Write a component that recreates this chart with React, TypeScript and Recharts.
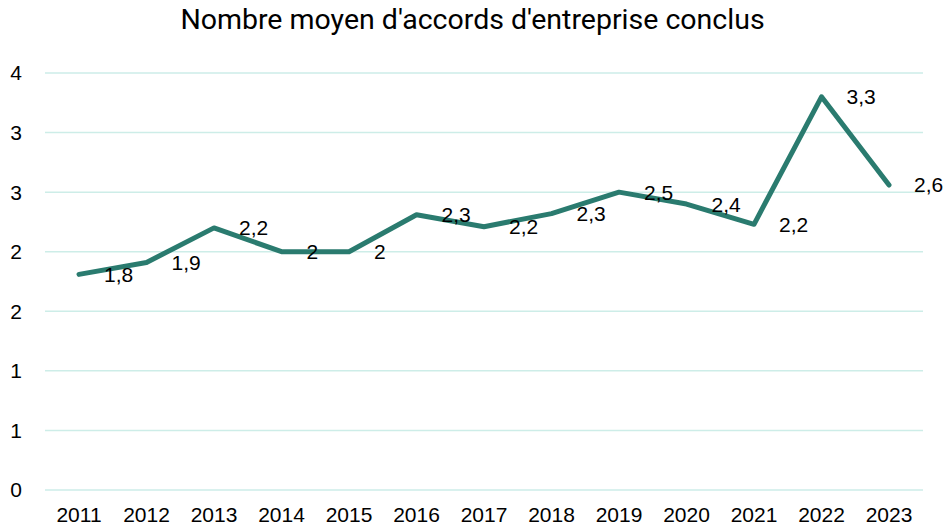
import { CartesianGrid, LabelList, Line, LineChart, XAxis, YAxis } from "recharts"

const years = ["2011", "2012", "2013", "2014", "2015", "2016", "2017", "2018", "2019", "2020", "2021", "2022", "2023"]
const avgAgreements = [1.81, 1.91, 2.2, 2.0, 2.0, 2.31, 2.21, 2.32, 2.5, 2.4, 2.23, 3.3, 2.56]
const yTicks = [0, 0.5, 1, 1.5, 2, 2.5, 3, 3.5]

const data = years.map((year, i) => ({ year, value: avgAgreements[i] }))

const FONT = "'Liberation Sans', Arial, sans-serif"

const formatValue = (v: number) => {
  const r = Math.round(v * 10) / 10
  return Number.isInteger(r) ? String(r) : r.toFixed(1).replace(".", ",")
}

export default function App() {
  return (
    <div style={{ position: "absolute", left: 0, top: 0, width: 945, height: 527, background: "#fff", overflow: "hidden" }}>
      <div
        style={{
          position: "absolute",
          top: 3,
          left: 0,
          width: 945,
          textAlign: "center",
          fontFamily: "Roboto, sans-serif",
          fontSize: 28.5,
          color: "#000",
        }}
      >
        Nombre moyen d'accords d'entreprise conclus
      </div>
      <LineChart width={945} height={527} data={data} margin={{ top: 73, right: 22, bottom: 0, left: 0 }}>
        <CartesianGrid vertical={false} stroke="#CDEDE8" strokeWidth={1.5} />
        <XAxis
          dataKey="year"
          axisLine={false}
          tickLine={false}
          tickSize={0}
          tickMargin={17}
          height={37}
          padding={{ left: 34, right: 34 }}
          interval={0}
          tick={{ fill: "#000", fontSize: 21, fontFamily: FONT }}
        />
        <YAxis
          domain={[0, 3.5]}
          ticks={yTicks}
          width={45}
          axisLine={false}
          tickLine={false}
          tickSize={0}
          tickMargin={23}
          tickFormatter={(v: number) => String(Math.round(v))}
          tick={{ fill: "#000", fontSize: 21, fontFamily: FONT }}
        />
        <Line
          type="linear"
          dataKey="value"
          stroke="#2A7B6F"
          strokeWidth={5}
          strokeLinejoin="round"
          strokeLinecap="round"
          dot={false}
          isAnimationActive={false}
        >
          <LabelList
            dataKey="value"
            position="right"
            offset={25}
            formatter={(v: number) => formatValue(v)}
            style={{ fill: "#000", fontSize: 21, fontFamily: FONT }}
          />
        </Line>
      </LineChart>
    </div>
  )
}
